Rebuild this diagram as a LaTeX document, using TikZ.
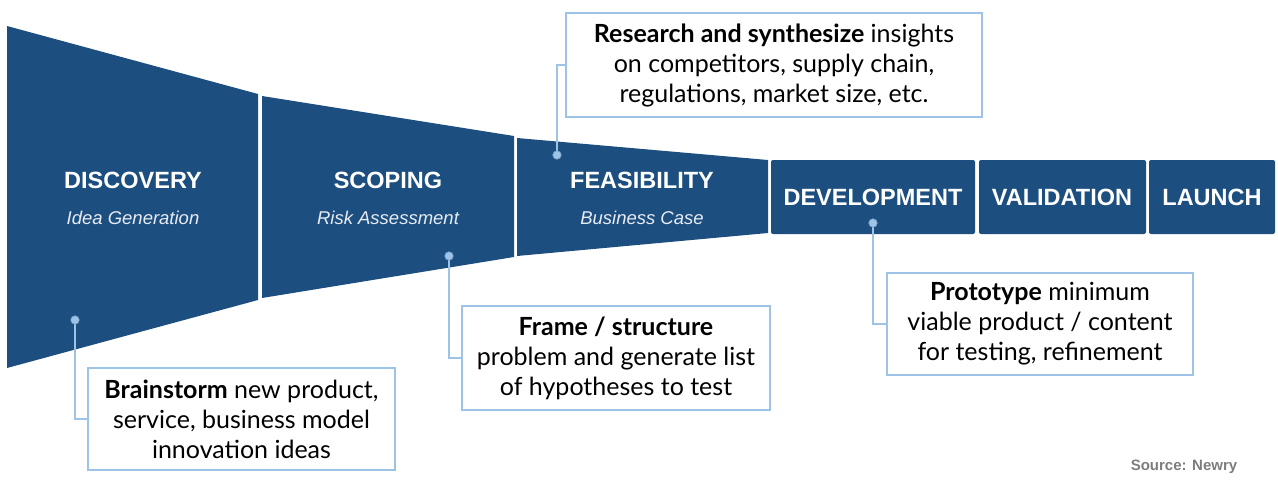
\documentclass[tikz,border=0pt]{standalone}
\usepackage{fontspec}
\setmainfont{Liberation Sans}
\newfontfamily\calloutfont{Lato}
\usepackage{xcolor}
\definecolor{funnel}{RGB}{28,78,128}
\definecolor{callout}{RGB}{157,195,230}
\definecolor{calloutedge}{RGB}{120,160,200}
\definecolor{subtitle}{RGB}{232,236,242}
\definecolor{source}{RGB}{125,125,125}

\begin{document}
\begin{tikzpicture}[x=1pt,y=-1pt,
    stage/.style = {text=white, font=\fontsize{23.5}{27}\selectfont\bfseries, inner sep=0},
    sub/.style = {text=subtitle, font=\fontsize{18.5}{21}\selectfont\itshape, inner sep=0},
    box/.style = {draw=callout, line width=2.6pt, fill=white, align=center, inner sep=0,
                  font=\calloutfont\fontsize{25}{30}\selectfont},
    link/.style = {draw=callout, line width=2.6pt},
    pin/.style = {circle, fill=callout, draw=calloutedge, line width=0.6pt, inner sep=0, minimum size=8.5pt}
    ]
    \useasboundingbox (0,0) rectangle (1278,490);

    % funnel
    \fill[funnel] (7,26) -- (258,94) -- (258,300) -- (7,368) -- cycle;
    \fill[funnel] (262,96) -- (514,136) -- (514,257) -- (262,298) -- cycle;
    \fill[funnel] (517,138) -- (768,160) -- (768,233) -- (517,256) -- cycle;
    \fill[funnel, rounded corners=2pt] (771,160) rectangle (975,234);
    \fill[funnel, rounded corners=2pt] (979,160) rectangle (1146,234);
    \fill[funnel, rounded corners=2pt] (1149,160) rectangle (1275,234);

    % stage names
    \node[stage] (discovery) at (133,180) {DISCOVERY};
    \node[sub] (discoverysub) at (133,218) {Idea Generation};
    \node[stage] (scoping) at (388,180) {SCOPING};
    \node[sub] (scopingsub) at (388,218) {Risk Assessment};
    \node[stage] (feasibility) at (642,180) {FEASIBILITY};
    \node[sub] (feasibilitysub) at (642,218) {Business Case};
    \node[stage] (development) at (873,197) {DEVELOPMENT};
    \node[stage] (validation) at (1062,197) {VALIDATION};
    \node[stage] (launch) at (1212,197) {LAUNCH};

    % callouts
    \node[box, minimum width=307pt, minimum height=102pt] (brainstorm) at (241.5,419)
        {\textbf{Brainstorm} new product,\\ service, business model\\ innovation ideas};
    \node[box, minimum width=308pt, minimum height=104pt] (frame) at (616,358)
        {\textbf{Frame / structure}\\ problem and generate list\\ of hypotheses to test};
    \node[box, minimum width=416pt, minimum height=104pt] (research) at (774,65)
        {\textbf{Research and synthesize} insights\\ on competitors, supply chain,\\ regulations, market size, etc.};
    \node[box, minimum width=306pt, minimum height=102pt] (prototype) at (1040,324)
        {\textbf{Prototype} minimum\\ viable product / content\\ for testing, refinement};

    % pins and links
    \coordinate (pindiscovery) at (75,320);
    \coordinate (pinscoping) at (449,256);
    \coordinate (pinfeasibility) at (557,155);
    \coordinate (pindevelopment) at (873,223);
    \draw[link] (pindiscovery) |- (brainstorm.west);
    \draw[link] (pinscoping) |- (frame.west);
    \draw[link] (pinfeasibility) |- (research.west);
    \draw[link] (pindevelopment) |- (prototype.west);
    \foreach \p in {pindiscovery, pinscoping, pinfeasibility, pindevelopment}
        \node[pin] at (\p) {};

    \node[text=source, font=\fontsize{15}{18}\selectfont\bfseries, inner sep=0] (sourcenote) at (1184,467) {Source: Newry};
\end{tikzpicture}
\end{document}
